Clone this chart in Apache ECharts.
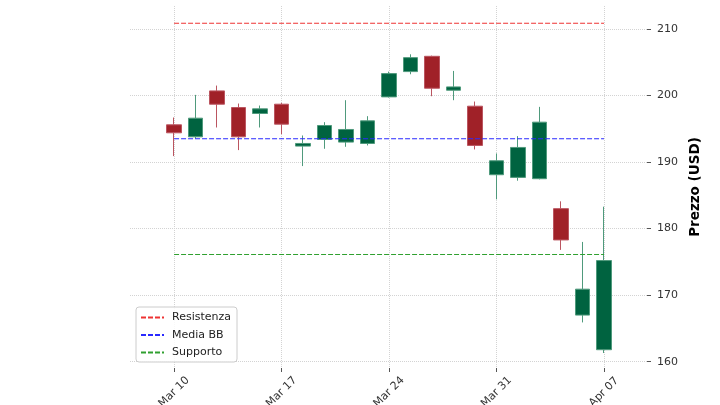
<!DOCTYPE html>
<html><head><meta charset="utf-8">
<script src="https://cdn.jsdelivr.net/npm/echarts@6/dist/echarts.min.js"></script>
<style>html,body{margin:0;padding:0;background:#fff}#c{width:720px;height:405px}</style>
</head><body><div id="c"></div>
<script>
const dates = ['Mar 10','Mar 11','Mar 12','Mar 13','Mar 14','Mar 17','Mar 18','Mar 19','Mar 20','Mar 21',
  'Mar 24','Mar 25','Mar 26','Mar 27','Mar 28','Mar 31','Apr 01','Apr 02','Apr 03','Apr 04','Apr 07'];
const opens  = [195.6,193.8,200.7,198.2,197.3,198.7,192.4,193.4,193.0,192.8,199.8,203.6,205.9,200.8,198.4,188.1,187.7,187.5,183.0,167.0,161.8];
const closes = [194.4,196.6,198.7,193.8,198.0,195.7,192.8,195.5,194.9,196.2,203.3,205.7,201.1,201.3,192.5,190.2,192.2,196.0,178.3,170.9,175.2];
const lows   = [190.9,193.5,195.2,191.8,195.2,194.2,189.4,192.0,192.3,192.5,199.7,203.2,199.9,199.3,191.9,184.4,187.2,187.4,176.8,165.9,161.3];
const highs  = [196.7,200.1,201.5,198.8,198.5,198.9,194.0,196.0,199.3,196.9,203.6,206.2,206.0,203.7,199.1,191.3,193.9,198.3,184.1,178.0,183.3];
const tickIndex = [0,5,10,15,20];
const yTicks = [160,170,180,190,200,210];
const resistenza = 210.86, mediaBB = 193.5, supporto = 176.1;

const candleData = dates.map((d,i)=>[i, opens[i], closes[i], lows[i], highs[i]]);
const last = dates.length - 1;
function levelLine(name, v, color){
  return {name, type:'line', data:[[0,v],[last,v]], symbol:'none', silent:true,
    lineStyle:{color, width:1.1, type:[5,2]}, itemStyle:{color}, z:3};
}
const font = 'DejaVu Sans';
const chart = echarts.init(document.getElementById('c'));
chart.setOption({
  animation:false,
  textStyle:{fontFamily:font},
  grid:{left:130, right:73, top:6, bottom:37, containLabel:false, outerBoundsMode:'none'},
  legend:{
    data:['Resistenza','Media BB','Supporto'],
    orient:'vertical', left:136, top:307,
    padding:[5,6,4,4], itemWidth:23, itemHeight:11, itemGap:6.5,
    itemStyle:{opacity:0},
    backgroundColor:'rgba(255,255,255,0.85)', borderColor:'#cccccc', borderWidth:1, borderRadius:3,
    textStyle:{fontFamily:font, fontSize:11, color:'#222', padding:[0,0,0,3]}
  },
  xAxis:{
    type:'value', min:-2.05, max:22,
    axisLine:{show:false, onZero:false},
    axisTick:{show:true, length:4, lineStyle:{color:'#555'}, customValues:tickIndex},
    axisLabel:{customValues:tickIndex, formatter:v=>dates[Math.round(v)]||'', rotate:45, align:'center', verticalAlign:'middle',
      margin:24, fontSize:11, color:'#333', fontFamily:font},
    splitLine:{show:true, lineStyle:{color:'#d3d3d3', type:[1,1], width:1}}
  },
  yAxis:{
    type:'value', position:'right', min:159.05, max:213.46, scale:true,
    axisLine:{show:false, onZero:false},
    axisTick:{show:true, length:4, lineStyle:{color:'#555'}, customValues:yTicks},
    axisLabel:{customValues:yTicks, margin:10, fontSize:11, color:'#333', fontFamily:font},
    splitLine:{show:true, lineStyle:{color:'#d3d3d3', type:[1,1], width:1}},
    name:'Prezzo (USD)', nameLocation:'middle', nameRotate:90, nameGap:27,
    nameTextStyle:{fontFamily:font, fontSize:13.5, fontWeight:'bold', color:'#000'}
  },
  series:[
    {type:'candlestick', data:candleData, encode:{x:0, y:[1,2,3,4]}, barWidth:15, clip:false,
      itemStyle:{color:'#006340', color0:'#a02128', borderColor:'#4f9a7c', borderColor0:'#bb5560', borderWidth:1}, z:2},
    levelLine('Resistenza', resistenza, '#ee3333'),
    levelLine('Media BB', mediaBB, '#2a2aff'),
    levelLine('Supporto', supporto, '#30a030')
  ]
});
</script></body></html>
